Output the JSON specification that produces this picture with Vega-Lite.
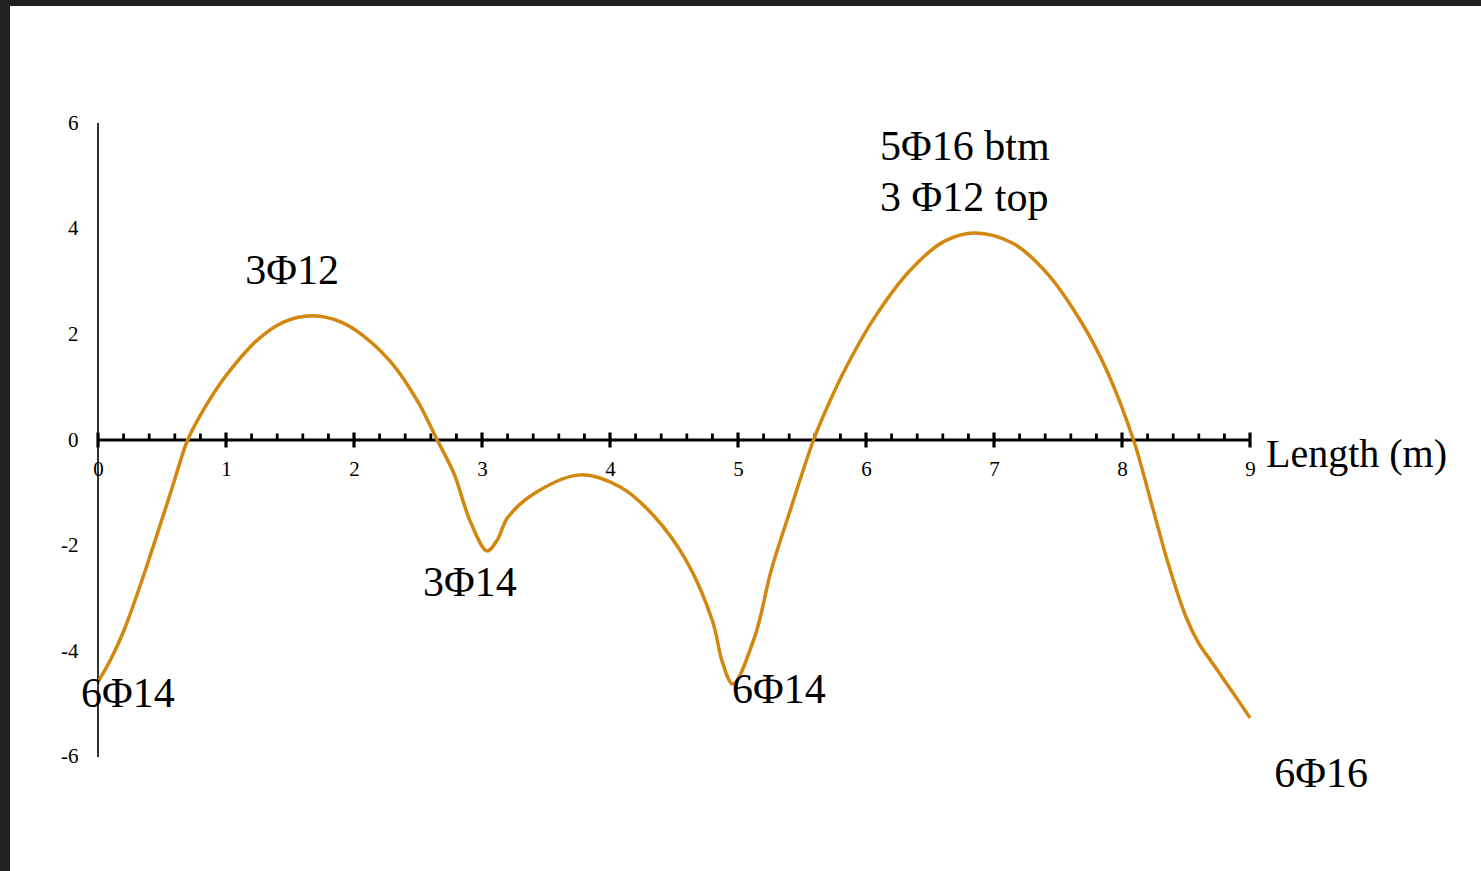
{
  "$schema": "https://vega.github.io/schema/vega-lite/v6.json",
  "autosize": "none",
  "width": 1471,
  "height": 865,
  "padding": {"left": 10, "top": 6, "right": 0, "bottom": 0},
  "background": "#202020",
  "view": {"fill": "white", "stroke": null},
  "config": {
    "font": "Liberation Serif",
    "axis": {"labelFont": "Liberation Serif", "labelColor": "black", "grid": false, "domain": false, "ticks": false}
  },
  "datasets": {
    "curve": [
      {"x": 0, "y": -4.58}, {"x": 0.1, "y": -4.15}, {"x": 0.2, "y": -3.62}, {"x": 0.33, "y": -2.75},
      {"x": 0.46, "y": -1.8}, {"x": 0.58, "y": -0.9}, {"x": 0.7, "y": 0}, {"x": 0.8, "y": 0.47},
      {"x": 0.9, "y": 0.87}, {"x": 1.0, "y": 1.22}, {"x": 1.24, "y": 1.88}, {"x": 1.45, "y": 2.23},
      {"x": 1.68, "y": 2.35}, {"x": 1.9, "y": 2.23}, {"x": 2.1, "y": 1.92}, {"x": 2.3, "y": 1.44},
      {"x": 2.5, "y": 0.72}, {"x": 2.65, "y": 0}, {"x": 2.78, "y": -0.63}, {"x": 2.91, "y": -1.55},
      {"x": 3.04, "y": -2.1}, {"x": 3.12, "y": -1.89}, {"x": 3.2, "y": -1.47}, {"x": 3.43, "y": -0.98},
      {"x": 3.77, "y": -0.66}, {"x": 4.08, "y": -0.89}, {"x": 4.34, "y": -1.43}, {"x": 4.6, "y": -2.3},
      {"x": 4.8, "y": -3.42}, {"x": 4.88, "y": -4.22}, {"x": 4.96, "y": -4.62}, {"x": 5.13, "y": -3.73},
      {"x": 5.26, "y": -2.46}, {"x": 5.4, "y": -1.39}, {"x": 5.59, "y": 0}, {"x": 5.7, "y": 0.64},
      {"x": 5.85, "y": 1.4}, {"x": 6.07, "y": 2.33}, {"x": 6.34, "y": 3.2}, {"x": 6.61, "y": 3.76},
      {"x": 6.85, "y": 3.92}, {"x": 7.15, "y": 3.72}, {"x": 7.42, "y": 3.14}, {"x": 7.69, "y": 2.2},
      {"x": 7.88, "y": 1.32}, {"x": 8.09, "y": 0}, {"x": 8.23, "y": -1.2}, {"x": 8.36, "y": -2.33},
      {"x": 8.5, "y": -3.35}, {"x": 8.6, "y": -3.85}, {"x": 8.7, "y": -4.2}, {"x": 8.8, "y": -4.55},
      {"x": 8.9, "y": -4.9}, {"x": 9.0, "y": -5.26}
    ],
    "majorTicks": [
      {"x": 0, "y": 0}, {"x": 1, "y": 0}, {"x": 2, "y": 0}, {"x": 3, "y": 0}, {"x": 4, "y": 0},
      {"x": 5, "y": 0}, {"x": 6, "y": 0}, {"x": 7, "y": 0}, {"x": 8, "y": 0}, {"x": 9, "y": 0}
    ],
    "minorTicks": [
      {"x": 0.2, "y": 0}, {"x": 0.4, "y": 0}, {"x": 0.6, "y": 0}, {"x": 0.8, "y": 0},
      {"x": 1.2, "y": 0}, {"x": 1.4, "y": 0}, {"x": 1.6, "y": 0}, {"x": 1.8, "y": 0},
      {"x": 2.2, "y": 0}, {"x": 2.4, "y": 0}, {"x": 2.6, "y": 0}, {"x": 2.8, "y": 0},
      {"x": 3.2, "y": 0}, {"x": 3.4, "y": 0}, {"x": 3.6, "y": 0}, {"x": 3.8, "y": 0},
      {"x": 4.2, "y": 0}, {"x": 4.4, "y": 0}, {"x": 4.6, "y": 0}, {"x": 4.8, "y": 0},
      {"x": 5.2, "y": 0}, {"x": 5.4, "y": 0}, {"x": 5.6, "y": 0}, {"x": 5.8, "y": 0},
      {"x": 6.2, "y": 0}, {"x": 6.4, "y": 0}, {"x": 6.6, "y": 0}, {"x": 6.8, "y": 0},
      {"x": 7.2, "y": 0}, {"x": 7.4, "y": 0}, {"x": 7.6, "y": 0}, {"x": 7.8, "y": 0},
      {"x": 8.2, "y": 0}, {"x": 8.4, "y": 0}, {"x": 8.6, "y": 0}, {"x": 8.8, "y": 0}
    ],
    "axes": [
      {"x": 0, "x2": 0, "y": -6, "y2": 6, "axis": "y"},
      {"x": 0, "x2": 9, "y": 0, "y2": 0, "axis": "x"}
    ],
    "centerLabels": [
      {"x": 1.516, "y": 3.2, "label": "3Φ12"},
      {"x": 2.906, "y": -2.71, "label": "3Φ14"},
      {"x": 0.234, "y": -4.8, "label": "6Φ14"},
      {"x": 5.32, "y": -4.73, "label": "6Φ14"},
      {"x": 9.555, "y": -6.33, "label": "6Φ16"}
    ],
    "leftLabels": [
      {"x": 6.11, "y": 5.55, "label": "5Φ16 btm"},
      {"x": 6.11, "y": 4.58, "label": "3 Φ12 top"}
    ],
    "axisTitle": [
      {"x": 9.125, "y": -0.28, "label": "Length (m)"}
    ]
  },
  "encoding": {
    "x": {
      "field": "x", "type": "quantitative",
      "scale": {"domain": [-0.6875, 10.8047], "nice": false, "zero": false},
      "axis": {
        "orient": "bottom", "offset": -431, "values": [0, 1, 2, 3, 4, 5, 6, 7, 8, 9],
        "labelFontSize": 21, "labelPadding": 18, "labelExpr": "'' + datum.value", "title": null
      }
    },
    "y": {
      "field": "y", "type": "quantitative",
      "scale": {"domain": [-8.158, 8.215], "nice": false, "zero": false},
      "axis": {
        "orient": "left", "offset": -88, "values": [-6, -4, -2, 0, 2, 4, 6],
        "labelFontSize": 21, "labelPadding": 20, "labelExpr": "'' + datum.value", "title": null
      }
    }
  },
  "layer": [
    {
      "data": {"name": "axes"},
      "transform": [{"filter": "datum.axis === 'y'"}],
      "mark": {"type": "rule", "color": "black", "strokeWidth": 1.6},
      "encoding": {"y2": {"field": "y2"}}
    },
    {
      "data": {"name": "axes"},
      "transform": [{"filter": "datum.axis === 'x'"}],
      "mark": {"type": "rule", "color": "black", "strokeWidth": 3},
      "encoding": {"x2": {"field": "x2"}}
    },
    {
      "data": {"name": "majorTicks"},
      "mark": {"type": "tick", "orient": "vertical", "color": "black", "size": 15, "thickness": 3.2, "opacity": 1}
    },
    {
      "data": {"name": "minorTicks"},
      "mark": {"type": "tick", "orient": "vertical", "color": "black", "size": 7, "thickness": 2.8, "yOffset": -3, "opacity": 1}
    },
    {
      "data": {"name": "curve"},
      "mark": {"type": "line", "color": "#d3870e", "strokeWidth": 3.5, "interpolate": "catmull-rom"}
    },
    {
      "data": {"name": "centerLabels"},
      "mark": {"type": "text", "font": "Liberation Serif", "fontSize": 42, "color": "black", "align": "center", "baseline": "middle"},
      "encoding": {"text": {"field": "label"}}
    },
    {
      "data": {"name": "leftLabels"},
      "mark": {"type": "text", "font": "Liberation Serif", "fontSize": 42, "color": "black", "align": "left", "baseline": "middle"},
      "encoding": {"text": {"field": "label"}}
    },
    {
      "data": {"name": "axisTitle"},
      "mark": {"type": "text", "font": "Liberation Serif", "fontSize": 40, "color": "black", "align": "left", "baseline": "middle"},
      "encoding": {"text": {"field": "label"}}
    }
  ]
}
